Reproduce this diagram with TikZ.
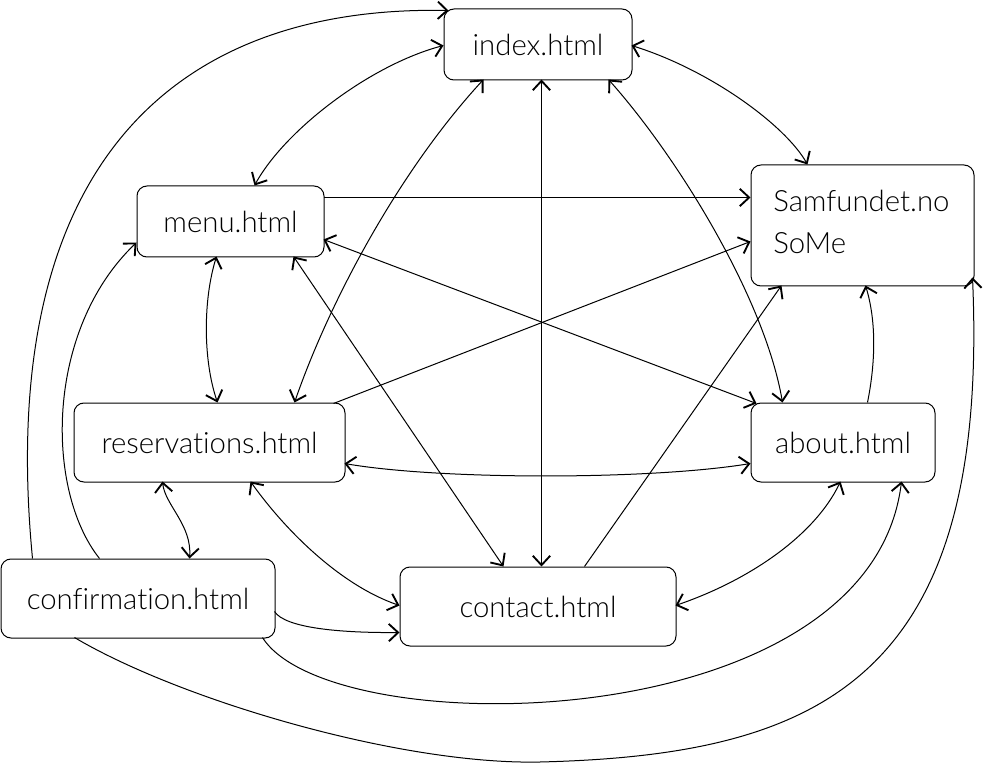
\documentclass[tikz,border=0pt]{standalone}
\usepackage{fontspec}
\setmainfont{Lato}[UprightFont={* Light},Ligatures=NoCommon]
\usetikzlibrary{arrows.meta,calc}
\begin{document}
\begin{tikzpicture}[x=0.75pt,y=-0.75pt,
  box/.style={draw,line width=0.75pt,rounded corners=7.5pt,inner sep=0pt,font=\fontsize{22}{26}\selectfont},
  link/.style={line width=0.75pt},
  >={Straight Barb[length=7pt,width=13pt,line width=1.4pt]}]
\fill[white] (0,0) rectangle (986,763);
\useasboundingbox (0,0) rectangle (986,763);
% nodes
\node[box,minimum width=141pt,minimum height=53.25pt] (index) at (538,44.5) {index.html};
\node[box,minimum width=140.25pt,minimum height=53.25pt] (menu) at (230.5,221.5) {menu.html};
\node[box,minimum width=167.25pt,minimum height=90.75pt] (sam) at (862.5,225.5) {};
\node[font=\fontsize{22}{32}\selectfont,align=left,anchor=base west,inner sep=0pt] (samtxt) at (773,254) {Samfundet.no\\SoMe};
\node[box,minimum width=203.25pt,minimum height=59.25pt] (res) at (209.5,442.5) {reservations.html};
\node[box,minimum width=138pt,minimum height=59.25pt] (about) at (843,442.5) {about.html};
\node[box,minimum width=205.5pt,minimum height=59.25pt] (conf) at (138,598.5) {confirmation.html};
\node[box,minimum width=207pt,minimum height=59.25pt] (contact) at (538,606.5) {contact.html};
% connectors
\draw[link,->] ($(conf.north west)+(32,0)$) .. controls (-5,170) and (170,5) .. ($(index.north west)+(5,2)$);
\draw[link,<->] ($(index.north west)+(0,37)$) .. controls (370,65) and (285,130) .. ($(menu.north west)+(118,0)$);
\draw[link,->] ($(conf.north west)+(99,0)$) .. controls (45,490) and (45,330) .. ($(menu.north west)+(0,57)$);
\draw[link,->] ($(menu.north west)+(187,12)$) -- ($(sam.north west)+(0,33)$);
\draw[link,<->] ($(menu.north west)+(80,71)$) .. controls (203,300) and (203,360) .. ($(res.north west)+(144,0)$);
\draw[link,<->] ($(menu.north west)+(157,71)$) -- ($(contact.north west)+(104,0)$);
\draw[link,<->] ($(res.north west)+(221,0)$) .. controls (330,300) and (400,170) .. ($(index.north west)+(40,71)$);
\draw[link,<->] ($(index.north west)+(98,71)$) -- ($(contact.north west)+(142,0)$);
\draw[link,<->] ($(index.north west)+(165,71)$) .. controls (680,160) and (765,300) .. ($(about.north west)+(32,0)$);
\draw[link,<->] ($(index.north west)+(188,37)$) .. controls (710,70) and (785,125) .. ($(sam.north west)+(57,0)$);
\draw[link,<->] ($(menu.north west)+(187,54)$) -- ($(about.north west)+(6,1)$);
\draw[link,->] ($(res.north west)+(260,1)$) -- ($(sam.north west)+(0,77)$);
\draw[link,<->] ($(res.north west)+(271,61)$) .. controls (440,480) and (650,480) .. ($(about.north west)+(0,61)$);
\draw[link,<->] ($(res.north west)+(89,79)$) .. controls (165,505) and (192,525) .. ($(conf.north west)+(189,0)$);
\draw[link,<->] ($(res.north west)+(177,79)$) .. controls (285,530) and (340,585) .. ($(contact.north west)+(0,39)$);
\draw[link,->] ($(conf.north west)+(274,53)$) .. controls (285,628) and (340,633) .. ($(contact.north west)+(0,66)$);
\draw[link,->] ($(contact.north west)+(185,0)$) -- ($(sam.north west)+(31,121)$);
\draw[link,<->] ($(contact.north west)+(276,39)$) .. controls (750,580) and (815,535) .. ($(about.north west)+(90,79)$);
\draw[link,->] ($(conf.north west)+(262,79)$) .. controls (330,745) and (870,740) .. ($(about.north west)+(151,79)$);
\draw[link,->] ($(about.north west)+(117,0)$) .. controls (876,360) and (876,320) .. ($(sam.north west)+(115,121)$);
\draw[link,->] ($(conf.north west)+(74,79)$) .. controls (180,700) and (400,765) .. (540,762) .. controls (820,755) and (990,680) .. ($(sam.north west)+(222,113)$);
\end{tikzpicture}
\end{document}
